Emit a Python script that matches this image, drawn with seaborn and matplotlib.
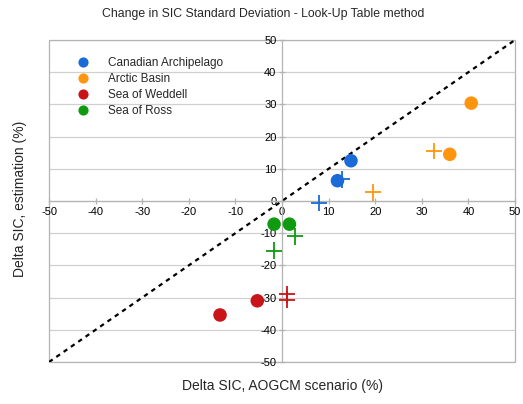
import pandas as pd
import seaborn as sns
import matplotlib.pyplot as plt
from matplotlib.patches import Rectangle

# regions and their values (circles = one estimate, crosses = the other)
regions = ["Canadian Archipelago", "Arctic Basin", "Sea of Weddell", "Sea of Ross"]
colors = ["#1a6ad7", "#ff950e", "#c9141a", "#0f9a0f"]

circ_region = ["Canadian Archipelago", "Canadian Archipelago", "Arctic Basin", "Arctic Basin",
               "Sea of Weddell", "Sea of Weddell", "Sea of Ross", "Sea of Ross"]
circ_x = [14.8, 11.9, 40.6, 36.0, -13.3, -5.3, -1.7, 1.6]
circ_y = [12.5, 6.3, 30.4, 14.5, -35.4, -31.0, -7.2, -7.2]

cross_region = ["Canadian Archipelago", "Canadian Archipelago", "Arctic Basin", "Arctic Basin",
                "Sea of Weddell", "Sea of Weddell", "Sea of Ross", "Sea of Ross"]
cross_x = [8.0, 12.8, 32.6, 19.5, 1.1, 1.1, 2.8, -1.7]
cross_y = [-0.7, 6.7, 15.5, 2.7, -29.0, -30.6, -11.0, -15.4]

circ_df = pd.DataFrame({"x": circ_x, "y": circ_y, "region": circ_region})
cross_df = pd.DataFrame({"x": cross_x, "y": cross_y, "region": cross_region})
palette = dict(zip(regions, colors))

sns.set_style("white")
plt.rcParams['font.family'] = ['Liberation Sans', 'DejaVu Sans']
plt.rcParams['axes.unicode_minus'] = False

fig = plt.figure(figsize=(5.23, 4.04), dpi=100)
ax = fig.add_axes([0.0937, 0.104, 0.891, 0.797])

# grid lines (horizontal only)
for v in range(-50, 51, 10):
    ax.axhline(v, color="#d0d0d0", lw=0.9, zorder=0)

# y = x line
ax.plot([-50, 50], [-50, 50], color="black", ls=(0, (2, 2)), lw=1.6, zorder=1)

sns.scatterplot(data=cross_df, x="x", y="y", hue="region", palette=palette, hue_order=regions,
                marker="+", s=140, linewidth=1.3, legend=False, ax=ax, zorder=3)
sns.scatterplot(data=circ_df, x="x", y="y", hue="region", palette=palette, hue_order=regions,
                marker="o", s=95, linewidth=0, ax=ax, zorder=4)

ax.set_xlim(-50, 50)
ax.set_ylim(-50, 50)
ax.set_xticks(range(-50, 51, 10))
ax.set_yticks(range(-50, 51, 10))

# axes through the origin
for side in ["left", "bottom"]:
    ax.spines[side].set_position(("data", 0))
    ax.spines[side].set_color("#b3b3b3")
    ax.spines[side].set_linewidth(0.9)
for side in ["top", "right"]:
    ax.spines[side].set_visible(False)
ax.add_patch(Rectangle((0, 0), 1, 1, transform=ax.transAxes, fill=False,
                       edgecolor="#b3b3b3", lw=0.9, clip_on=False, zorder=0))
ax.tick_params(axis="both", length=4, width=0.9, color="#b3b3b3", labelsize=8,
               labelcolor="black", direction="inout", pad=2)
ax.xaxis.set_ticks_position("bottom")
ax.yaxis.set_ticks_position("left")

ax.set_xlabel("")
ax.set_ylabel("")
fig.text(0.54, 0.045, "Delta SIC, AOGCM scenario (%)", ha="center", va="center", fontsize=10)
fig.text(0.039, 0.507, "Delta SIC, estimation (%)", ha="center", va="center", fontsize=10, rotation=90)
fig.text(0.503, 0.965, "Change in SIC Standard Deviation - Look-Up Table method",
         ha="center", va="center", fontsize=8.8)

leg = ax.legend(loc="upper left", bbox_to_anchor=(0.025, 0.98), frameon=False, fontsize=8.5,
                handlelength=2.0, handletextpad=1.15, labelspacing=0.35, markerscale=0.75)

plt.savefig("out.png", dpi=100)
